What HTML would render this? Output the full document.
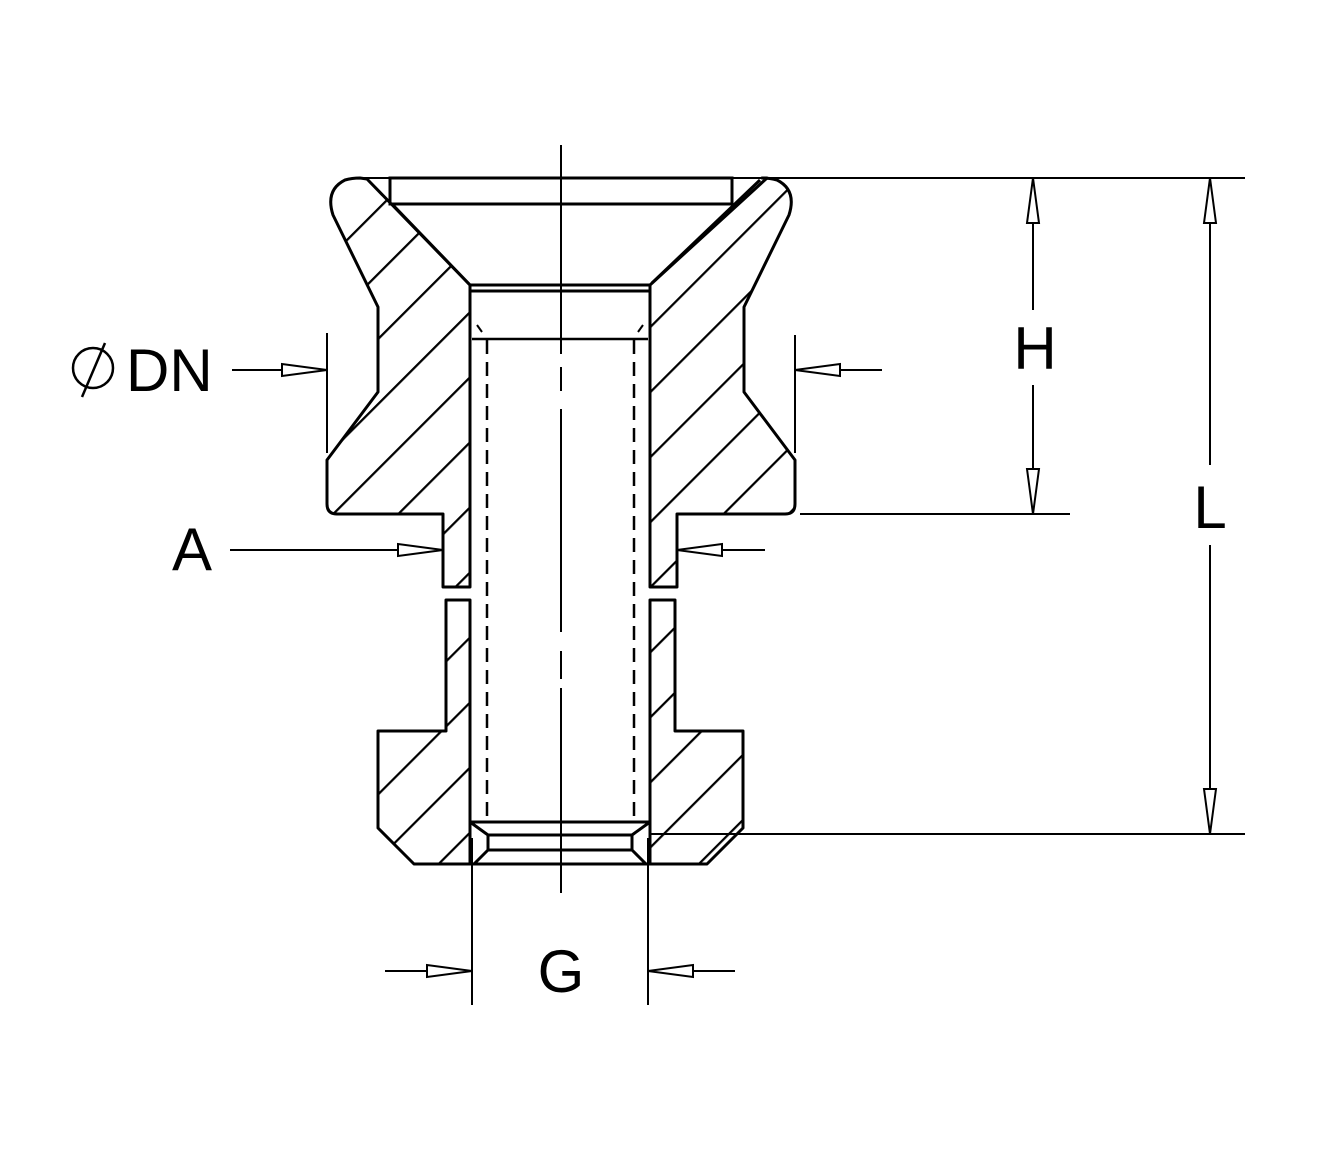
<!DOCTYPE html>
<html><head><style>html,body{margin:0;padding:0;background:#fff}svg{display:block}</style></head>
<body>
<svg width="1320" height="1164" viewBox="0 0 1320 1164" xmlns="http://www.w3.org/2000/svg">
<defs>
<pattern id="h" patternUnits="userSpaceOnUse" width="20" height="46" patternTransform="rotate(-45)">
<line x1="0" y1="1" x2="20" y2="1" stroke="#000" stroke-width="2.5"/>
</pattern>
</defs>
<g fill="url(#h)" stroke="#000" stroke-width="3" stroke-linejoin="round">
<path d="M367,179 L470,285 L470,587 L443,587 L443,514 L337,514 Q327,514 327,504 L327,460 L378,392 L378,307 L333,215 Q325,190 345,180 Q352,178 360,178 Z"/>
<path d="M446,600 L470,600 L470,864 L414,864 L378,828 L378,731 L446,731 Z"/>
<path d="M767,178 L650,285 L650,587 L677,587 L677,514 L785,514 Q795,514 795,504 L795,460 L744,392 L744,307 L789,215 Q797,190 777,180 Q770,178 762,178 Z"/>
<path d="M675,600 L650,600 L650,864 L707,864 L743,828 L743,731 L675,731 Z"/>
</g>
<g stroke="#000" fill="none" stroke-width="3">
<line x1="355" y1="178" x2="1245" y2="178" stroke-width="2"/>
<rect x="390" y="178" width="342" height="26"/>
<line x1="392" y1="204" x2="470" y2="285"/>
<line x1="760" y1="180" x2="652" y2="283"/>
<line x1="470" y1="285" x2="650" y2="285"/>
<line x1="470" y1="291" x2="650" y2="291"/>
<line x1="472" y1="339" x2="648" y2="339" stroke-width="2.5"/>
<line x1="470" y1="822" x2="650" y2="822"/>
<line x1="470" y1="822" x2="488" y2="835"/>
<line x1="650" y1="822" x2="632" y2="835"/>
<line x1="488" y1="835" x2="632" y2="835"/>
<line x1="488" y1="850" x2="632" y2="850"/>
<line x1="488" y1="835" x2="488" y2="850"/>
<line x1="632" y1="835" x2="632" y2="850"/>
<line x1="488" y1="850" x2="474" y2="864"/>
<line x1="632" y1="850" x2="646" y2="864"/>
<line x1="470" y1="864" x2="650" y2="864"/>
<line x1="487" y1="340" x2="487" y2="822" stroke-dasharray="14,8" stroke-width="2.5"/>
<line x1="634" y1="340" x2="634" y2="822" stroke-dasharray="14,8" stroke-width="2.5"/>
<line x1="477" y1="325" x2="482" y2="332" stroke-width="2"/>
<line x1="643" y1="325" x2="638" y2="332" stroke-width="2"/>
</g>
<g stroke="#000" stroke-width="2" fill="none">
<line x1="561" y1="145" x2="561" y2="354"/>
<line x1="561" y1="367" x2="561" y2="391"/>
<line x1="561" y1="409" x2="561" y2="632"/>
<line x1="561" y1="651" x2="561" y2="679"/>
<line x1="561" y1="688" x2="561" y2="893"/>
<line x1="800" y1="514" x2="1070" y2="514"/>
<line x1="650" y1="834" x2="1245" y2="834"/>
<line x1="327" y1="333" x2="327" y2="453"/>
<line x1="795" y1="335" x2="795" y2="453"/>
<line x1="232" y1="370" x2="327" y2="370"/>
<line x1="882" y1="370" x2="795" y2="370"/>
<line x1="230" y1="550" x2="443" y2="550"/>
<line x1="765" y1="550" x2="677" y2="550"/>
<line x1="472" y1="838" x2="472" y2="1005"/>
<line x1="648" y1="838" x2="648" y2="1005"/>
<line x1="385" y1="971" x2="472" y2="971"/>
<line x1="735" y1="971" x2="648" y2="971"/>
<line x1="1033" y1="178" x2="1033" y2="310"/>
<line x1="1033" y1="385" x2="1033" y2="514"/>
<line x1="1210" y1="178" x2="1210" y2="465"/>
<line x1="1210" y1="545" x2="1210" y2="834"/>
</g>
<g stroke="#000" stroke-width="2" fill="#fff">
<polygon points="327,370 282,364 282,376"/>
<polygon points="795,370 840,364 840,376"/>
<polygon points="443,550 398,544 398,556"/>
<polygon points="677,550 722,544 722,556"/>
<polygon points="472,971 427,965 427,977"/>
<polygon points="648,971 693,965 693,977"/>
<polygon points="1033,178 1027,223 1039,223"/>
<polygon points="1033,514 1027,469 1039,469"/>
<polygon points="1210,178 1204,223 1216,223"/>
<polygon points="1210,834 1204,789 1216,789"/>
</g>
<circle cx="93" cy="368" r="20" fill="none" stroke="#000" stroke-width="2.5"/>
<line x1="82" y1="397" x2="105" y2="343" stroke="#000" stroke-width="2.5"/>
<g font-family="Liberation Sans, sans-serif" font-size="60" fill="#000">
<text x="126" y="391">DN</text>
<text x="172" y="570">A</text>
<text x="561" y="992" text-anchor="middle">G</text>
<text x="1035" y="369" text-anchor="middle">H</text>
<text x="1210" y="528" text-anchor="middle">L</text>
</g>
</svg>
</body></html>
